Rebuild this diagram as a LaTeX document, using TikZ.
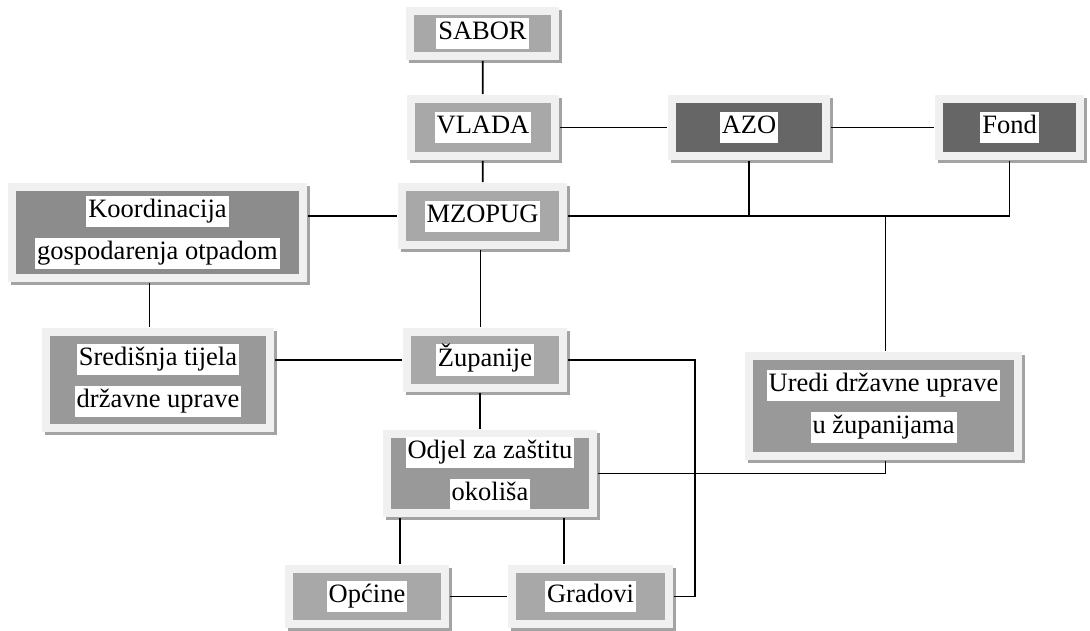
\documentclass[tikz,border=0pt]{standalone}
\usepackage{fontspec}
\setmainfont{Liberation Serif}
\newfontfamily\boxfont{Liberation Serif}
\usepackage{tikz}
\usetikzlibrary{shadows}

\definecolor{frame}{gray}{0.94}
\definecolor{lightbox}{gray}{0.66}
\definecolor{midbox}{gray}{0.60}
\definecolor{deepbox}{gray}{0.55}
\definecolor{darkbox}{gray}{0.40}

\newcommand{\lbl}[1]{{\setlength{\fboxsep}{0pt}\colorbox{white}{\hspace{2pt}\strut#1\hspace{2pt}}}}

\begin{document}
\begin{tikzpicture}
  [x=1pt,y=-1pt,line width=1.8pt,
   unit/.style={fill=frame,inner sep=0pt,align=center,
     font=\boxfont\fontsize{26.5}{31}\selectfont,
     drop shadow={shadow xshift=2.5pt,shadow yshift=-2.5pt,fill=black!45,opacity=.8},
     path picture={\fill[#1] ([xshift=8pt,yshift=8pt]path picture bounding box.south west)
       rectangle ([xshift=-8pt,yshift=-8pt]path picture bounding box.north east);}}]
  \useasboundingbox (0,0) rectangle (1090,630);

  \node[unit=lightbox,minimum width=153,minimum height=53] (sabor) at (482.5,33.5) {\lbl{SABOR}};
  \node[unit=lightbox,minimum width=152,minimum height=65] (vlada) at (483,127.5) {\lbl{VLADA}};
  \node[unit=darkbox,minimum width=162,minimum height=65] (azo) at (749,127.5) {\lbl{AZO}};
  \node[unit=darkbox,minimum width=149,minimum height=65] (fond) at (1009.5,127.5) {\lbl{Fond}};
  \node[unit=lightbox,minimum width=169,minimum height=66] (mzopug) at (482.5,216) {\lbl{MZOPUG}};
  \node[unit=deepbox,minimum width=299,minimum height=99] (koord) at (157.5,232.5)
    {\lbl{Koordinacija}\\[11pt]\lbl{gospodarenja otpadom}};
  \node[unit=lightbox,minimum width=164,minimum height=64] (zupanije) at (485,360) {\lbl{Županije}};
  \node[unit=midbox,minimum width=232,minimum height=104] (sred) at (158,380)
    {\lbl{Središnja tijela}\\[11pt]\lbl{državne uprave}};
  \node[unit=midbox,minimum width=277,minimum height=108] (uredi) at (883.5,406)
    {\lbl{Uredi državne uprave}\\[11pt]\lbl{u županijama}};
  \node[unit=midbox,minimum width=214,minimum height=87] (odjel) at (490,473.5)
    {\lbl{Odjel za zaštitu}\\[11pt]\lbl{okoliša}};
  \node[unit=lightbox,minimum width=164,minimum height=63] (opcine) at (367,596.5) {\lbl{Općine}};
  \node[unit=lightbox,minimum width=165,minimum height=63] (gradovi) at (590.5,596.5) {\lbl{Gradovi}};
  \coordinate (bend) at (695,360);

  \foreach \from/\to in {sabor/vlada,vlada/azo,azo/fond,vlada/mzopug,opcine/gradovi}
    \draw (\from) -- (\to);

  \draw ([xshift=-8pt]koord.south) -- ([xshift=-8pt]koord.south |- sred.north);
  \draw (mzopug.west) -- (mzopug.west -| koord.east);
  \draw (mzopug.east) -| (fond.south);
  \draw (azo.south) -- (azo.south |- mzopug.east);
  \draw ([xshift=2pt]uredi.north) -- ([xshift=2pt]uredi.north |- mzopug.east);
  \draw ([xshift=-2pt]mzopug.south) -- ([xshift=-2pt]mzopug.south |- zupanije.north);
  \draw (zupanije.west) -- (zupanije.west -| sred.east);
  \draw ([xshift=-5pt]zupanije.south) -- ([xshift=-5pt]zupanije.south |- odjel.north);
  \draw (zupanije.east) -- (bend) |- (gradovi.east);
  \draw (odjel.east) -| ([xshift=2pt]uredi.south);
  \draw ([xshift=18pt]odjel.south west) -- ([xshift=18pt]odjel.south west |- opcine.north);
  \draw ([xshift=-34pt]odjel.south east) -- ([xshift=-34pt]odjel.south east |- gradovi.north);

\end{tikzpicture}
\end{document}
